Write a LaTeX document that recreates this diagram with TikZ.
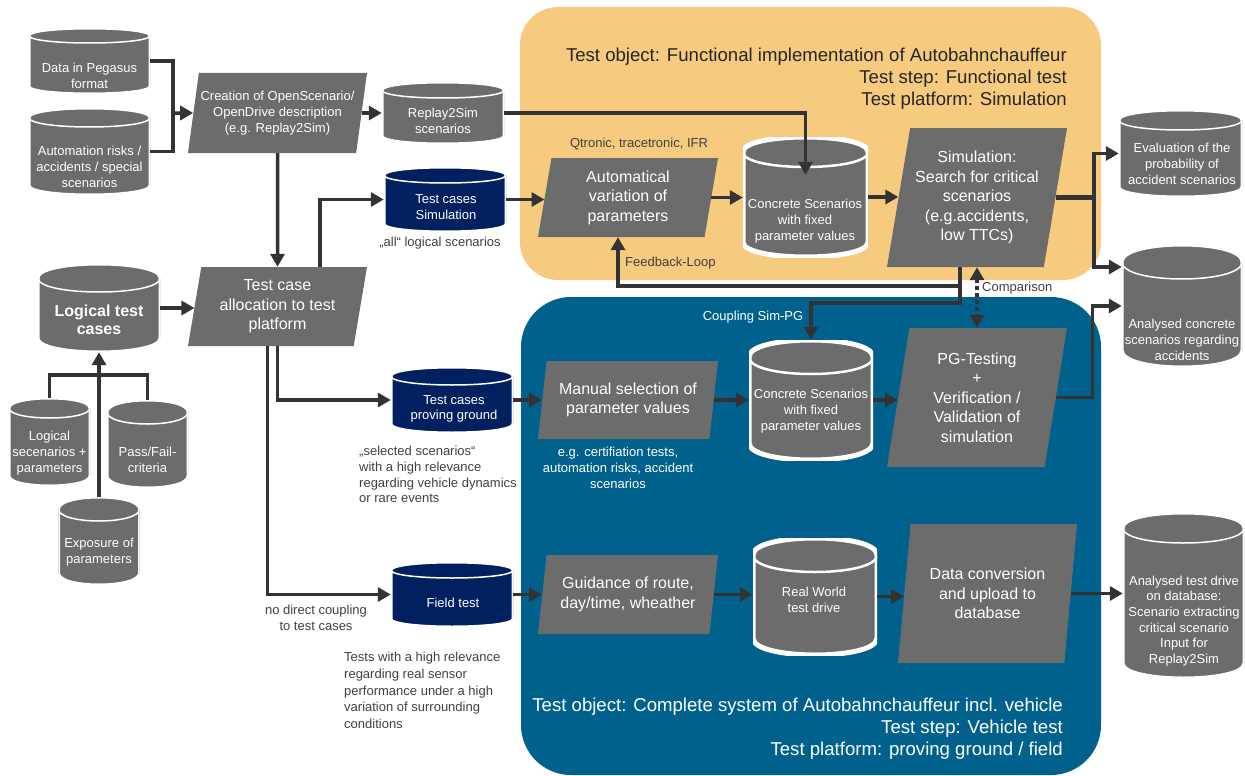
\documentclass[tikz,border=0pt]{standalone}
\usepackage{fontspec}
\setmainfont{Liberation Sans}
\usetikzlibrary{arrows.meta,shapes.geometric}

\definecolor{boxgray}{RGB}{108,108,108}
\definecolor{tcnavy}{RGB}{0,32,96}
\definecolor{simbg}{RGB}{246,203,128}
\definecolor{pgbg}{RGB}{0,98,140}
\definecolor{linegray}{RGB}{51,51,51}
\definecolor{notegray}{RGB}{64,64,64}

\newcommand{\smalltxt}{\fontsize{13}{15.7}\selectfont}
\newcommand{\boxtxt}{\fontsize{16}{19.5}\selectfont}
\newcommand{\titletxt}{\fontsize{18.6}{22}\selectfont}

\tikzset{
	cyl r/.store in=\cylr, cyl fill/.store in=\cylfill, cyl line/.store in=\cylline,
	cyl r=8pt, cyl fill=boxgray, cyl line=1.5pt,
	db/.style={rectangle, inner sep=0pt, cyl r=#1, path picture={
		\coordinate (nw) at (path picture bounding box.north west);
		\coordinate (ne) at (path picture bounding box.north east);
		\coordinate (sw) at (path picture bounding box.south west);
		\coordinate (se) at (path picture bounding box.south east);
		\filldraw[fill=\cylfill, draw=white, line width=2*\cylline]
			([yshift=\cylr]sw) -- ([yshift=-\cylr]nw)
			.. controls ([yshift=\cylr/3]nw) and ([yshift=\cylr/3]ne) .. ([yshift=-\cylr]ne)
			-- ([yshift=\cylr]se)
			.. controls ([yshift=-\cylr/3]se) and ([yshift=-\cylr/3]sw) .. ([yshift=\cylr]sw) -- cycle;
		\draw[white, line width=\cylline]
			([yshift=-\cylr]nw) .. controls ([yshift=-7*\cylr/3]nw) and ([yshift=-7*\cylr/3]ne) .. ([yshift=-\cylr]ne);
	}},
	dbnavy/.style={db=#1, cyl fill=tcnavy},
	dbcon/.style={db=#1, cyl line=2.5pt},
	dbtxt/.style={align=center, text=white, font=\smalltxt, inner sep=0pt},
	proc/.style={trapezium, trapezium left angle=76, trapezium right angle=104,
		trapezium stretches body, fill=boxgray, text=white, align=center,
		inner sep=0pt, font=\boxtxt},
	note/.style={text=notegray, font=\smalltxt, inner sep=0pt},
	flow/.style={draw=linegray, line width=3.5pt, ->},
	link/.style={draw=linegray, line width=3.5pt},
}

\begin{document}
\begin{tikzpicture}[x=1pt, y=-1pt, >={Triangle[length=13pt,width=14pt]}]
	\useasboundingbox (0,0) rectangle (1245,776);

	% test platform areas
	\fill[simbg, rounded corners=38pt] (520,7) rectangle (1101,280);
	\fill[pgbg, rounded corners=50pt] (521,297) rectangle (1101,775);

	\node[text=black!85, font=\titletxt, align=right, anchor=east, inner sep=0pt] (simtitle) at (1067,79)
		{Test object: Functional implementation of Autobahnchauffeur\\Test step: Functional test\\Test platform: Simulation};
	\node[text=white, font=\titletxt, align=right, anchor=east, inner sep=0pt] (pgtitle) at (1063,729)
		{Test object: Complete system of Autobahnchauffeur incl. vehicle\\Test step: Vehicle test\\Test platform: proving ground / field};

	% input data
	\node[db=7.5pt, minimum width=121, minimum height=66] (peg) at (89.5,61) {};
	\node[dbtxt] (pegtxt) at (89.5,76) {Data in Pegasus\\format};
	\node[db=9.5pt, minimum width=121, minimum height=87] (risk) at (89.5,151.5) {};
	\node[dbtxt] (risktxt) at (89.5,167) {Automation risks /\\accidents / special\\scenarios};
	\node[proc, font=\smalltxt, minimum width=179, minimum height=80] (cre) at (277.5,113)
		{Creation of OpenScenario/\\OpenDrive description\\(e.g. Replay2Sim)};
	\node[db=8pt, minimum width=122, minimum height=62] (replay) at (443,113) {};
	\node[dbtxt] (replaytxt) at (443,121) {Replay2Sim\\scenarios};

	% logical test cases
	\node[db=14pt, minimum width=122, minimum height=88] (ltc) at (99,308) {};
	\node[dbtxt, font=\fontsize{16}{18.5}\selectfont\bfseries] (ltctxt) at (99,320) {Logical test\\cases};
	\node[db=10pt, minimum width=81, minimum height=88] (lsp) at (49.5,442) {};
	\node[dbtxt] (lsptxt) at (49.5,453) {Logical\\secenarios +\\parameters};
	\node[db=12pt, minimum width=81, minimum height=88] (pass) at (147.5,444) {};
	\node[dbtxt] (passtxt) at (147.5,460) {Pass/Fail-\\criteria};
	\node[db=12pt, minimum width=81, minimum height=88] (expo) at (99,541) {};
	\node[dbtxt] (expotxt) at (99,552) {Exposure of\\parameters};
	\node[proc, minimum width=179, minimum height=79] (alloc) at (277.5,306.5)
		{Test case\\allocation to test\\platform};

	% test cases per platform
	\node[dbnavy=8pt, minimum width=122, minimum height=65] (tcsim) at (445,199.5) {};
	\node[dbtxt] (tcsimtxt) at (446,207) {Test cases\\Simulation};
	\node[note] (allnote) at (440,243) {„all“ logical scenarios};
	\node[dbnavy=9pt, minimum width=122, minimum height=66] (tcpg) at (452,400) {};
	\node[dbtxt] (tcpgtxt) at (454,409) {Test cases\\proving ground};
	\node[note, align=left, anchor=west] (selnote) at (359,474.5)
		{„selected scenarios“\\with a high relevance\\regarding vehicle dynamics\\or rare events};
	\node[dbnavy=8pt, minimum width=122, minimum height=65] (field) at (452,594.5) {};
	\node[dbtxt] (fieldtxt) at (453,603) {Field test};
	\node[note, align=center] (nodc) at (316,618) {no direct coupling\\to test cases};
	\node[note, align=left, anchor=west, font=\fontsize{13}{16.7}\selectfont] (sensnote) at (344,690.5)
		{Tests with a high relevance\\regarding real sensor\\performance under a high\\variation of surrounding\\conditions};

	% simulation
	\node[note] (qtr) at (639,144) {Qtronic, tracetronic, IFR};
	\node[proc, minimum width=180, minimum height=79] (auto) at (628,197.5)
		{Automatical\\variation of\\parameters};
	\node[dbcon=15pt, minimum width=125, minimum height=120] (csim) at (805.5,197) {};
	\node[dbtxt] (csimtxt) at (805,221) {Concrete Scenarios\\with fixed\\parameter values};
	\node[proc, minimum width=180, minimum height=139] (sim) at (977,197.5)
		{Simulation:\\Search for critical\\scenarios\\(e.g.accidents,\\low TTCs)};
	\node[note, anchor=west] (fbl) at (625,263) {Feedback-Loop};
	\node[note, anchor=west] (cmp) at (982,288) {Comparison};

	% proving ground
	\node[note, text=white] (cpl) at (753,317) {Coupling Sim-PG};
	\node[proc, minimum width=180, minimum height=78] (man) at (628,400)
		{Manual selection of\\parameter values};
	\node[note, text=white, align=center] (egnote) at (618,468)
		{e.g. certifiation tests,\\automation risks, accident\\scenarios};
	\node[dbcon=17pt, minimum width=124, minimum height=120] (cpg) at (811,400) {};
	\node[dbtxt] (cpgtxt) at (811,411) {Concrete Scenarios\\with fixed\\parameter values};
	\node[proc, minimum width=180, minimum height=139] (pgt) at (977,397.5)
		{PG-Testing\\+\\Verification /\\Validation of\\simulation};

	% field
	\node[proc, minimum width=180, minimum height=79] (guid) at (628,594.5)
		{Guidance of route,\\day/time, wheather};
	\node[dbcon=17pt, minimum width=124, minimum height=117] (rw) at (815,596.5) {};
	\node[dbtxt] (rwtxt) at (814,600) {Real World\\test drive};
	\node[proc, minimum width=179, minimum height=139] (dc) at (987.5,593.5)
		{Data conversion\\and upload to\\database};

	% results
	\node[db=10pt, minimum width=123, minimum height=87] (eval) at (1180.5,153.5) {};
	\node[dbtxt] (evaltxt) at (1182,164) {Evaluation of the\\probability of\\accident scenarios};
	\node[db=17pt, minimum width=120, minimum height=122] (acc) at (1182,306) {};
	\node[dbtxt] (acctxt) at (1182,340) {Analysed concrete\\scenarios regarding\\accidents};
	\node[db=15pt, minimum width=121, minimum height=165] (atd) at (1183.5,595.5) {};
	\node[dbtxt] (atdtxt) at (1184,621) {Analysed test drive\\on database:\\Scenario extracting\\critical scenario\\Input for\\Replay2Sim};

	\coordinate (j1) at (173,113);

	\draw[link] (peg.east) -| (j1) |- (risk.east);
	\draw[flow] (j1) -- (cre);
	\draw[flow] (cre.east) -- (cre.east -| replay.west);
	\draw[flow] (cre) -- (alloc);
	\draw[flow] ([xshift=42.5pt]alloc.north) |- (tcsim.west);
	\draw[flow] (ltc.east) -- (ltc.east -| alloc.west);
	\draw[link] (lsp.north) -- ++(0,-23) -| (pass.north);
	\draw[flow] (expo.north) -- (ltc.south);
	\draw[flow] (alloc.south) |- (tcpg.west);
	\draw[flow] ([xshift=-10pt]alloc.south) |- (field.west);

	\draw[flow] (replay.east) -| ([yshift=-38pt]csim.north);
	\draw[flow] (tcsim.east) -- (tcsim.east -| auto.west);
	\draw[flow] (auto.east) -- (auto.east -| csim.west);
	\draw[flow] (csim.east) -- (csim.east -| sim.west);
	\draw[link, line width=5pt] (sim.east) -- ++(38.5,0) coordinate (simout);
	\draw[flow] (simout) |- (eval.west);
	\draw[flow] (simout) |- ([yshift=39pt]acc.west);
	\draw[flow] ([xshift=-17pt]sim.south) |- ([shift={(-10pt,-49pt)}]auto.south) -- ([xshift=-10pt]auto.south);
	\draw[flow] ([xshift=-17pt]sim.south) |- ([yshift=37pt]cpg.north) -- (cpg.north);
	\draw[flow, <->, dash pattern=on 3.5pt off 3.5pt] (sim.south) -- (sim.south |- pgt.north);

	\draw[flow] (tcpg.east) -- (tcpg.east -| man.west);
	\draw[flow] (man.east) -- (man.east -| cpg.west);
	\draw[flow] (cpg.east) -- (cpg.east -| pgt.west);
	\draw[flow] (pgt.east) -- ++(36.5,0) |- (acc.west);

	\draw[flow] (field.east) -- (field.east -| guid.west);
	\draw[flow] (guid.east) -- (guid.east -| rw.west);
	\draw[flow] (rw.east) -- (rw.east -| dc.west);
	\draw[flow] (dc.east) -- (dc.east -| atd.west);
\end{tikzpicture}
\end{document}
